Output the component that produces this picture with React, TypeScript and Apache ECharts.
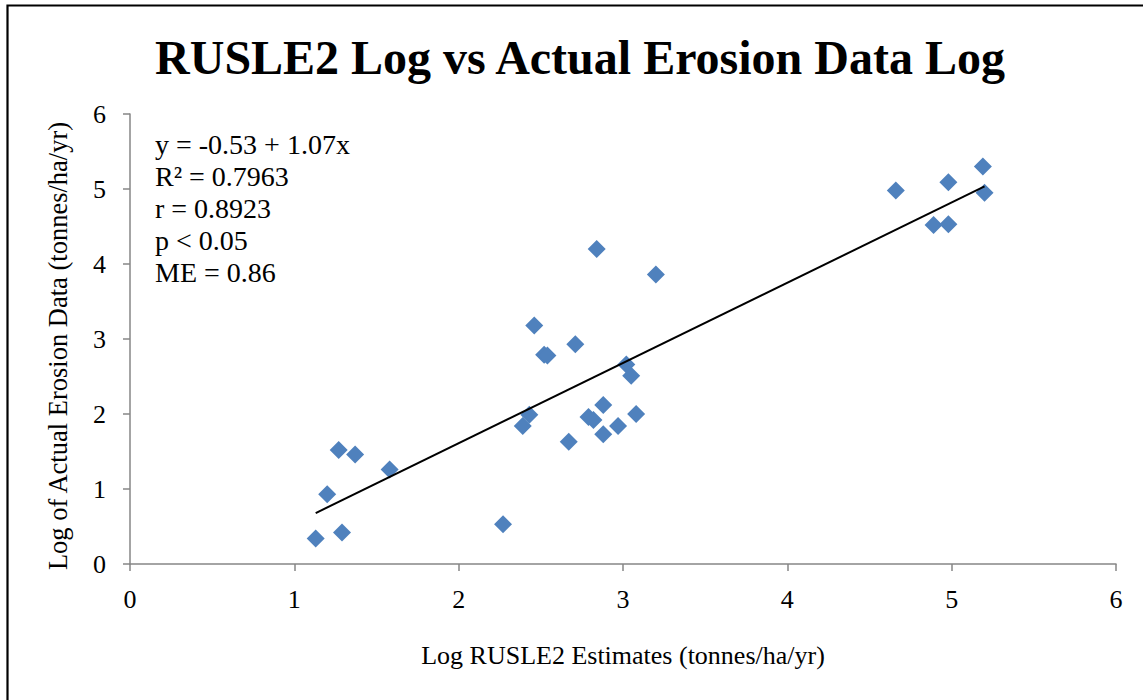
import React, { useEffect, useRef } from "react";
import * as echarts from "echarts";

const titleText = "RUSLE2 Log vs Actual Erosion Data Log";
const xAxisName = "Log RUSLE2 Estimates (tonnes/ha/yr)";
const yAxisName = "Log of Actual Erosion Data (tonnes/ha/yr)";

const xValues = [
  1.13, 1.2, 1.27, 1.29, 1.37, 1.58, 2.27, 2.39, 2.43, 2.46,
  2.84, 3.2, 2.52, 2.54, 2.71, 3.02, 3.05, 2.88, 3.08, 2.79,
  2.82, 2.97, 2.88, 2.67, 4.66, 4.98, 5.19, 5.2, 4.89, 4.98,
];
const yValues = [
  0.34, 0.93, 1.52, 0.42, 1.46, 1.26, 0.53, 1.84, 1.99, 3.18,
  4.2, 3.86, 2.79, 2.78, 2.93, 2.66, 2.51, 2.12, 2.0, 1.96,
  1.92, 1.84, 1.73, 1.63, 4.98, 5.09, 5.3, 4.95, 4.52, 4.53,
];

const trendIntercept = -0.53;
const trendSlope = 1.07;

const statLines = [
  "y = -0.53 + 1.07x",
  "R² = 0.7963",
  "r = 0.8923",
  "p < 0.05",
  "ME = 0.86",
];

const axisMin = 0;
const axisMax = 6;
const axisInterval = 1;

const FONT = '"Liberation Serif", "Times New Roman", serif';

export default function App() {
  const ref = useRef<HTMLDivElement>(null);

  useEffect(() => {
    if (!ref.current) return;
    const chart = echarts.init(ref.current, undefined, { renderer: "svg" });

    const points = xValues.map((x, i) => [x, yValues[i]]);
    const xMin = Math.min(...xValues);
    const xMax = Math.max(...xValues);
    const trend = [
      [xMin, trendIntercept + trendSlope * xMin],
      [xMax, trendIntercept + trendSlope * xMax],
    ];

    const axisLine = { show: true, lineStyle: { color: "#868686", width: 1.5 } };
    const axisTick = { show: true, inside: false, length: 7, lineStyle: { color: "#868686", width: 1.5 } };

    chart.setOption({
      animation: false,
      backgroundColor: "#ffffff",
      grid: { left: 130, right: 27, top: 114, bottom: 136, containLabel: false },
      xAxis: {
        type: "value",
        min: axisMin,
        max: axisMax,
        interval: axisInterval,
        axisLine,
        axisTick,
        splitLine: { show: false },
        axisLabel: { color: "#000", fontFamily: FONT, fontSize: 26, margin: 22 },
        name: xAxisName,
        nameLocation: "middle",
        nameGap: 78,
        nameTextStyle: { color: "#000", fontFamily: FONT, fontSize: 26 },
      },
      yAxis: {
        type: "value",
        min: axisMin,
        max: axisMax,
        interval: axisInterval,
        axisLine,
        axisTick,
        splitLine: { show: false },
        axisLabel: { color: "#000", fontFamily: FONT, fontSize: 26, margin: 24 },
        name: yAxisName,
        nameLocation: "middle",
        nameGap: 59,
        nameTextStyle: { color: "#000", fontFamily: FONT, fontSize: 26.5, padding: [0, 14, 0, 0] },
      },
      series: [
        {
          type: "scatter",
          data: points,
          symbol: "diamond",
          symbolSize: 18,
          itemStyle: { color: "#4F81BD", opacity: 1 },
          z: 2,
        },
        {
          type: "line",
          data: trend,
          symbol: "none",
          lineStyle: { color: "#000", width: 2 },
          z: 3,
        },
      ],
      graphic: [
        {
          type: "rect",
          shape: { x: 7.5, y: 5.5, width: 1160, height: 720 },
          style: { fill: "none", stroke: "#000", lineWidth: 2.2 },
          silent: true,
        },
        {
          type: "text",
          x: 580,
          y: 57,
          style: {
            text: titleText,
            fontFamily: FONT,
            fontSize: 48,
            fontWeight: "bold",
            fill: "#000",
            align: "center",
            verticalAlign: "middle",
          },
        },
        ...statLines.map((t, i) => ({
          type: "text",
          x: 155,
          y: 144 + i * 32,
          style: {
            text: t,
            fontFamily: FONT,
            fontSize: 28,
            fill: "#000",
            align: "left",
            verticalAlign: "middle",
          },
        })),
      ],
    });

    return () => chart.dispose();
  }, []);

  return (
    <div
      ref={ref}
      style={{ position: "absolute", left: 0, top: 0, width: 1143, height: 700, background: "#fff" }}
    />
  );
}
